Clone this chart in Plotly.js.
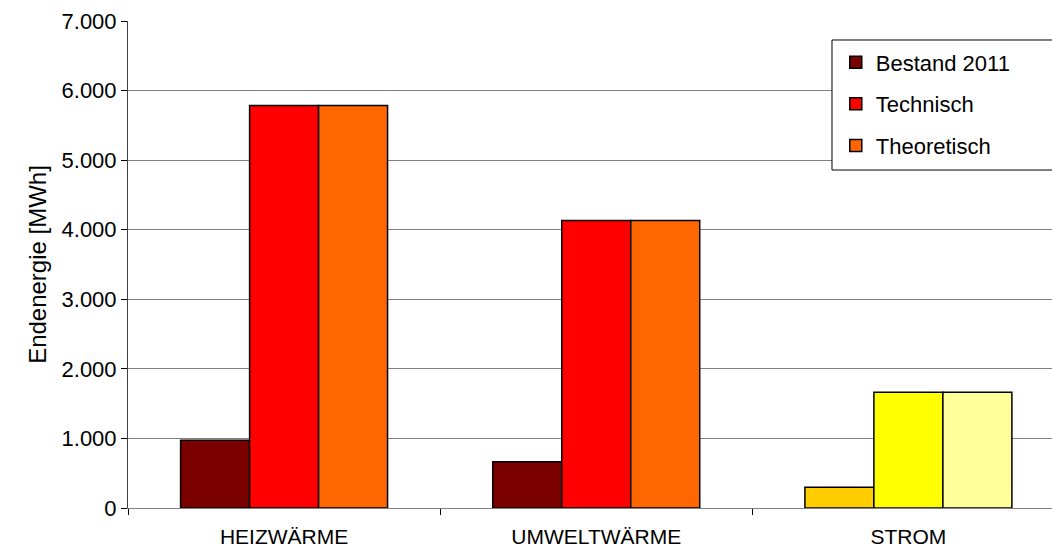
<!DOCTYPE html>
<html>
<head>
<meta charset="utf-8">
<script src="https://cdn.plot.ly/plotly-3.0.1.min.js"></script>
<style>body{margin:0;padding:0;background:#fff;} #chart{width:1052px;height:554px;}</style>
</head>
<body>
<div id="chart"></div>
<script>
const categories = ["HEIZWÄRME", "UMWELTWÄRME", "STROM"];
const seriesNames = ["Bestand 2011", "Technisch", "Theoretisch"];
const bestand = [975, 665, 300];
const technisch = [5785, 4133, 1662];
const theoretisch = [5785, 4133, 1662];
const bestandColors = ["#7B0000", "#7B0000", "#FFCC00"];
const technischColors = ["#FF0000", "#FF0000", "#FFFF00"];
const theoretischColors = ["#FF6600", "#FF6600", "#FFFF99"];
const yTicks = [0, 1000, 2000, 3000, 4000, 5000, 6000, 7000];

const allValues = [bestand, technisch, theoretisch];
const allColors = [bestandColors, technischColors, theoretischColors];

const traces = seriesNames.map((name, i) => ({
  type: "bar",
  name: name,
  x: categories,
  y: allValues[i],
  legendgroup: "g" + i,
  marker: { color: allColors[i], line: { color: "#000000", width: 1.5 } },
  hoverinfo: "x+y+name"
}));

const layout = {
  width: 1052,
  height: 554,
  margin: { l: 128, r: 0, t: 21, b: 46, pad: 0 },
  paper_bgcolor: "#ffffff",
  plot_bgcolor: "#ffffff",
  separators: ",.",
  font: { family: "Liberation Sans, Arial, sans-serif", color: "#000000", size: 20 },
  barmode: "group",
  bargap: 0.337,
  bargroupgap: 0,
  showlegend: true,
  legend: {
    x: 0.766, xanchor: "left",
    y: 0.958, yanchor: "top",
    bgcolor: "rgba(0,0,0,0)",
    borderwidth: 0,
    font: { size: 22, color: "#000000" },
    traceorder: "grouped",
    tracegroupgap: 10,
    itemwidth: 30
  },
  shapes: [{
    type: "rect", xref: "paper", yref: "paper",
    x0: 0.7619, x1: 1.02, y0: 0.694, y1: 0.961,
    fillcolor: "#ffffff",
    line: { color: "#000000", width: 1 },
    layer: "above"
  }],
  xaxis: {
    type: "category",
    range: [-0.5, 2.46],
    showgrid: false,
    showline: true,
    linecolor: "#808080",
    linewidth: 1,
    ticks: "outside",
    tickson: "boundaries",
    ticklen: 6,
    tickcolor: "#000000",
    ticklabelstandoff: 10,
    tickfont: { size: 21 },
    fixedrange: true
  },
  yaxis: {
    range: [0, 7000],
    tickvals: yTicks,
    tickformat: ",d",
    showgrid: true,
    gridcolor: "#808080",
    gridwidth: 1,
    zeroline: false,
    showline: true,
    linecolor: "#404040",
    linewidth: 1,
    ticks: "outside",
    ticklen: 6,
    tickcolor: "#000000",
    tickfont: { size: 22 },
    title: { text: "Endenergie [MWh]", font: { size: 24 }, standoff: 8 },
    fixedrange: true
  }
};

Plotly.newPlot("chart", traces, layout, { displayModeBar: false, staticPlot: true });
</script>
</body>
</html>
